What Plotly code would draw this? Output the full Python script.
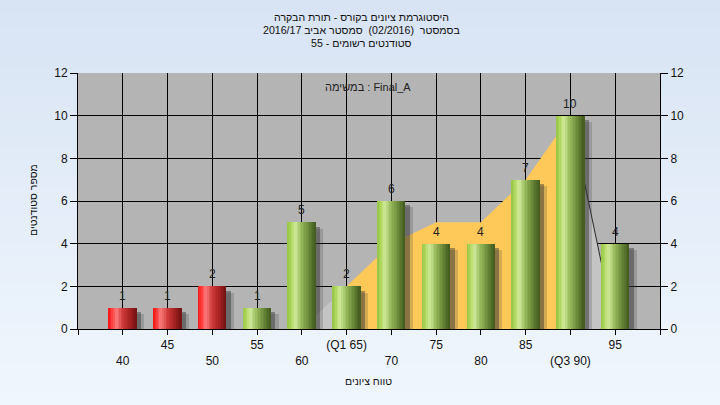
import plotly.graph_objects as go

# ---------------- data ----------------
categories = [40, 45, 50, 55, 60, 65, 70, 75, 80, 85, 90, 95]
counts = [1, 1, 2, 1, 5, 2, 6, 4, 4, 7, 10, 4]
fail_limit = 55          # bars below this are red
tick_labels = ["40", "45", "50", "55", "60", "(Q1 65)", "70", "75", "80", "85", "(Q3 90)", "95"]
q1 = 65
q3 = 90
area_x = [60, 65, 70, 75, 80, 85, 90, 95]
area_y = [0, 2, 4, 5, 5, 7, 10, 0]

title_lines = [
    "היסטוגרמת ציונים בקורס - תורת הבקרה",
    "בסמסטר  (02/2016)  סמסטר אביב 2016/17",
    "סטודנטים רשומים - 55",
]
task_label = "במשימה : Final_A"
x_title = "טווח ציונים"
y_title = "מספר סטודנטים"

FONT = "Liberation Sans, DejaVu Sans, Arial, sans-serif"

# ---------------- layout geometry ----------------
W, H = 720, 405
ML, MR, MT, MB = 78, 60, 73, 76
PW, PH = W - ML - MR, H - MT - MB
step = categories[1] - categories[0]
xmin, xmax = categories[0] - step, categories[-1] + step
bar_w = step * 0.62


def py(pix):  # pixel row -> paper y
    return (H - MB - pix) / PH


def px(pix):  # pixel col -> paper x
    return (pix - ML) / PW


def lerp(c1, c2, t):
    return tuple(int(round(a + (b - a) * t)) for a, b in zip(c1, c2))


def profile(stops, t):
    for (t0, c0), (t1, c1) in zip(stops, stops[1:]):
        if t0 <= t <= t1:
            return lerp(c0, c1, (t - t0) / (t1 - t0) if t1 > t0 else 0)
    return stops[-1][1]


green_stops = [(0.0, (150, 196, 70)), (0.12, (172, 214, 88)), (0.28, (208, 234, 155)),
               (0.5, (150, 185, 90)), (0.8, (98, 128, 52)), (1.0, (66, 90, 30))]
red_stops = [(0.0, (240, 20, 20)), (0.12, (255, 55, 55)), (0.28, (250, 125, 125)),
             (0.5, (210, 60, 60)), (0.8, (160, 30, 30)), (1.0, (112, 18, 18))]

fig = go.Figure()

# ---------------- background area (distribution) on main axes ----------------
i1 = area_x.index(q1)
i3 = area_x.index(q3)
fig.add_trace(go.Scatter(x=area_x[:i1 + 1], y=area_y[:i1 + 1], mode="lines", fill="tozeroy",
                         fillcolor="#c4c4c4", line=dict(width=0), hoverinfo="skip", showlegend=False))
fig.add_trace(go.Scatter(x=area_x[i3:], y=area_y[i3:], mode="lines", fill="tozeroy",
                         fillcolor="#c4c4c4", line=dict(width=1, color="#2a2a2a"),
                         hoverinfo="skip", showlegend=False))
fig.add_trace(go.Scatter(x=area_x[i1:i3 + 1], y=area_y[i1:i3 + 1], mode="lines", fill="tozeroy",
                         fillcolor="#ffc95a", line=dict(width=0), hoverinfo="skip", showlegend=False))

# ---------------- shadows (overlay axis so they sit above the area) ----------------
for shift, drop, col in [(0.85, 0.3, "rgba(60,60,60,0.22)"), (0.5, 0.2, "rgba(50,50,50,0.45)")]:
    fig.add_trace(go.Bar(x=categories, y=counts, base=[-drop] * len(counts), width=bar_w,
                         offset=-bar_w / 2 + shift, marker=dict(color=col, line=dict(width=0)),
                         yaxis="y3", hoverinfo="skip", showlegend=False))

# ---------------- cylinder bars as gradient strips ----------------
N = 18
sw = bar_w / N
for i in range(N):
    t = (i + 0.5) / N
    cols = []
    for c in categories:
        rgb = profile(red_stops if c < fail_limit else green_stops, t)
        cols.append("rgb(%d,%d,%d)" % rgb)
    fig.add_trace(go.Bar(x=categories, y=counts, width=sw * 1.15, offset=-bar_w / 2 + i * sw,
                         marker=dict(color=cols, line=dict(width=0)), yaxis="y3",
                         hoverinfo="skip", showlegend=False))

# ---------------- value labels ----------------
annotations = []
for c, v in zip(categories, counts):
    annotations.append(dict(x=c, y=v, yshift=12, text=str(v), showarrow=False,
                            font=dict(family=FONT, size=12, color="#1e1e1e")))

# titles
for k, (line, pix) in enumerate(zip(title_lines, [17, 30, 43])):
    annotations.append(dict(xref="paper", yref="paper", x=px(361), y=py(pix), text=line,
                            showarrow=False, xanchor="center", yanchor="middle",
                            font=dict(family=FONT, size=10.6, color="#111")))
annotations.append(dict(xref="paper", yref="paper", x=px(368), y=py(87), text=task_label,
                        showarrow=False, xanchor="center", yanchor="middle",
                        font=dict(family=FONT, size=11, color="#222")))
annotations.append(dict(xref="paper", yref="paper", x=px(368), y=py(381), text=x_title,
                        showarrow=False, xanchor="center", yanchor="middle",
                        font=dict(family=FONT, size=10.5, color="#111")))
annotations.append(dict(xref="paper", yref="paper", x=px(33), y=py(200), text=y_title,
                        textangle=-90, showarrow=False, xanchor="center", yanchor="middle",
                        font=dict(family=FONT, size=10.5, color="#111")))

# ---------------- background gradient ----------------
shapes = []
nb = 30
top_c, bot_c = (216, 228, 244), (240, 246, 253)
for k in range(nb):
    y0 = H * k / nb
    y1 = H * (k + 1) / nb + 1
    c = lerp(top_c, bot_c, k / (nb - 1))
    shapes.append(dict(type="rect", xref="paper", yref="paper", layer="below",
                       x0=px(0), x1=px(W), y0=py(y1), y1=py(y0),
                       fillcolor="rgb(%d,%d,%d)" % c, line=dict(width=0)))
shapes.append(dict(type="rect", xref="paper", yref="paper", layer="below", x0=0, x1=1, y0=0, y1=1,
                   fillcolor="#b4b4b4", line=dict(width=0)))

tickvals = [xmin] + categories + [xmax]
ticktext = [""]
for i, lab in enumerate(tick_labels):
    ticktext.append(lab if i % 2 == 1 else " <br>" + lab)
ticktext.append("")

fig.update_layout(
    width=W, height=H, autosize=False,
    margin=dict(l=ML, r=MR, t=MT, b=MB, pad=0),
    paper_bgcolor="#e4ecf8", plot_bgcolor="rgba(0,0,0,0)",
    barmode="overlay", bargap=0, showlegend=False,
    font=dict(family=FONT, size=12, color="#111"),
    annotations=annotations, shapes=shapes,
    xaxis=dict(range=[xmin, xmax], tickmode="array", tickvals=tickvals, ticktext=ticktext,
               showgrid=True, gridcolor="#000", gridwidth=1, zeroline=False,
               showline=True, linecolor="#000", linewidth=1, mirror=False,
               ticks="outside", ticklen=5, tickcolor="#000", tickangle=0,
               tickfont=dict(family=FONT, size=12, color="#111")),
    yaxis=dict(range=[0, 12], dtick=2, showgrid=True, gridcolor="#000", gridwidth=1,
               zeroline=False, showline=True, linecolor="#000", linewidth=1,
               ticks="outside", ticklen=7, tickcolor="#000",
               tickfont=dict(family=FONT, size=12, color="#111")),
    yaxis2=dict(range=[0, 12], dtick=2, overlaying="y", side="right", showgrid=False,
                zeroline=False, showline=True, linecolor="#000", linewidth=1,
                ticks="outside", ticklen=7, tickcolor="#000",
                tickfont=dict(family=FONT, size=12, color="#111")),
    yaxis3=dict(range=[0, 12], overlaying="y", visible=False, showgrid=False, zeroline=False),
)
# dummy trace so yaxis2 is drawn
fig.add_trace(go.Scatter(x=[xmin], y=[0], yaxis="y2", mode="markers",
                         marker=dict(opacity=0), hoverinfo="skip", showlegend=False))

fig.write_html("out.html", config={"displayModeBar": False},
               post_script="document.body.style.margin='0';document.body.style.padding='0';")
